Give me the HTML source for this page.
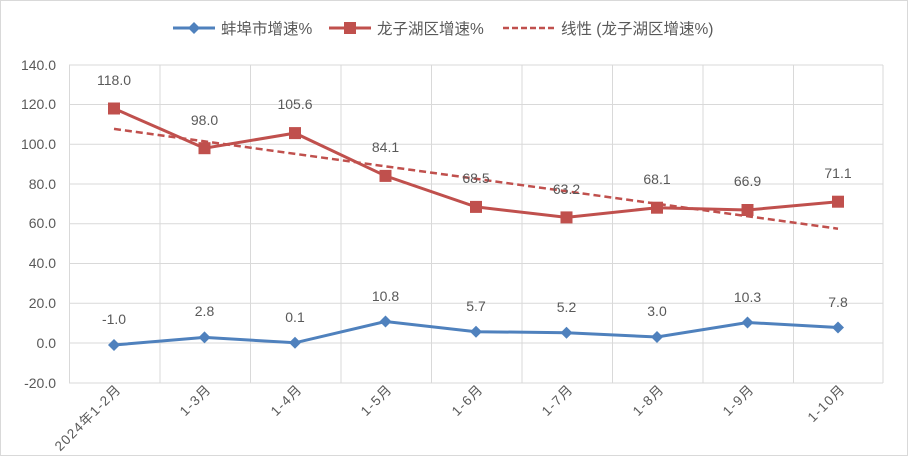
<!DOCTYPE html><html><head><meta charset="utf-8"><style>body{margin:0;background:#fff}svg{display:block;font-family:"Liberation Sans","Noto Sans CJK SC",sans-serif}</style></head><body>
<svg width="908" height="456" viewBox="0 0 908 456">
<rect x="0.5" y="0.5" width="907" height="455" fill="#fff" stroke="#d9d9d9"/>
<g stroke="#d9d9d9" stroke-width="1">
<line x1="69" x2="883" y1="65" y2="65"/><line x1="69" x2="883" y1="104.5" y2="104.5"/><line x1="69" x2="883" y1="144.3" y2="144.3"/><line x1="69" x2="883" y1="184" y2="184"/><line x1="69" x2="883" y1="223.8" y2="223.8"/><line x1="69" x2="883" y1="263.5" y2="263.5"/><line x1="69" x2="883" y1="303.3" y2="303.3"/><line x1="69" x2="883" y1="343" y2="343"/><line x1="69" x2="883" y1="383" y2="383"/>
<line x1="69.5" x2="69.5" y1="65" y2="383"/><line x1="160" x2="160" y1="65" y2="383"/><line x1="250.5" x2="250.5" y1="65" y2="383"/><line x1="341" x2="341" y1="65" y2="383"/><line x1="431.5" x2="431.5" y1="65" y2="383"/><line x1="522" x2="522" y1="65" y2="383"/><line x1="612.5" x2="612.5" y1="65" y2="383"/><line x1="703" x2="703" y1="65" y2="383"/><line x1="793.5" x2="793.5" y1="65" y2="383"/><line x1="883" x2="883" y1="65" y2="383"/>
</g>
<g fill="#595959" font-size="14" text-anchor="end">
<text x="56" y="70">140.0</text><text x="56" y="109">120.0</text><text x="56" y="149">100.0</text><text x="56" y="189">80.0</text><text x="56" y="228">60.0</text><text x="56" y="268">40.0</text><text x="56" y="308">20.0</text><text x="56" y="348">0.0</text><text x="56" y="388">-20.0</text>
</g>
<g fill="#595959" font-size="13.5" text-anchor="end" letter-spacing="1.2">
<text transform="translate(122,390) rotate(-45)">2024年1-2月</text>
<text transform="translate(212,390) rotate(-45)">1-3月</text>
<text transform="translate(303,390) rotate(-45)">1-4月</text>
<text transform="translate(393,390) rotate(-45)">1-5月</text>
<text transform="translate(484,390) rotate(-45)">1-6月</text>
<text transform="translate(574,390) rotate(-45)">1-7月</text>
<text transform="translate(665,390) rotate(-45)">1-8月</text>
<text transform="translate(755,390) rotate(-45)">1-9月</text>
<text transform="translate(846,390) rotate(-45)">1-10月</text>
</g>
<polyline fill="none" stroke="#4f81bd" stroke-width="3" points="114,345 204.5,337.4 295,342.8 385.5,321.5 476,331.7 566.5,332.7 657,337 747.5,322.5 838,327.5"/>
<g fill="#4f81bd">
<path d="M114,339l6,6-6,6-6-6z"/><path d="M204.5,331.4l6,6-6,6-6-6z"/><path d="M295,336.8l6,6-6,6-6-6z"/><path d="M385.5,315.5l6,6-6,6-6-6z"/><path d="M476,325.7l6,6-6,6-6-6z"/><path d="M566.5,326.7l6,6-6,6-6-6z"/><path d="M657,331l6,6-6,6-6-6z"/><path d="M747.5,316.5l6,6-6,6-6-6z"/><path d="M838,321.5l6,6-6,6-6-6z"/>
</g>
<polyline fill="none" stroke="#c0504d" stroke-width="3" points="114,108.5 204.5,148.2 295,133.1 385.5,175.9 476,206.9 566.5,217.4 657,207.7 747.5,210 838,201.7"/>
<g fill="#c0504d">
<rect x="108" y="102.5" width="12" height="12"/><rect x="198.5" y="142.2" width="12" height="12"/><rect x="289" y="127.1" width="12" height="12"/><rect x="379.5" y="169.9" width="12" height="12"/><rect x="470" y="200.9" width="12" height="12"/><rect x="560.5" y="211.4" width="12" height="12"/><rect x="651" y="201.7" width="12" height="12"/><rect x="741.5" y="204" width="12" height="12"/><rect x="832" y="195.7" width="12" height="12"/>
</g>
<line x1="114" y1="128.9" x2="838" y2="228.7" stroke="#c0504d" stroke-width="2.5" stroke-dasharray="7,4"/>
<g fill="#595959" font-size="14" text-anchor="middle">
<text x="114" y="85">118.0</text><text x="204.5" y="125">98.0</text><text x="295" y="109">105.6</text><text x="385.5" y="152">84.1</text><text x="476" y="183">68.5</text><text x="566.5" y="194">63.2</text><text x="657" y="184">68.1</text><text x="747.5" y="186">66.9</text><text x="838" y="178">71.1</text>
<text x="114" y="324">-1.0</text><text x="204.5" y="316">2.8</text><text x="295" y="322">0.1</text><text x="385.5" y="301">10.8</text><text x="476" y="311">5.7</text><text x="566.5" y="312">5.2</text><text x="657" y="316">3.0</text><text x="747.5" y="302">10.3</text><text x="838" y="307">7.8</text>
</g>
<g font-size="15.5" fill="#595959">
<line x1="173" x2="215" y1="28" y2="28" stroke="#4f81bd" stroke-width="3"/><path d="M194,22l6,6-6,6-6-6z" fill="#4f81bd"/>
<text x="221" y="34">蚌埠市增速%</text>
<line x1="329" x2="371" y1="28" y2="28" stroke="#c0504d" stroke-width="3"/><rect x="344" y="22" width="12" height="12" fill="#c0504d"/>
<text x="377" y="34">龙子湖区增速%</text>
<line x1="503" x2="556" y1="28" y2="28" stroke="#c0504d" stroke-width="2.5" stroke-dasharray="6,3"/>
<text x="561" y="34">线性 (龙子湖区增速%)</text>
</g>
</svg></body></html>
